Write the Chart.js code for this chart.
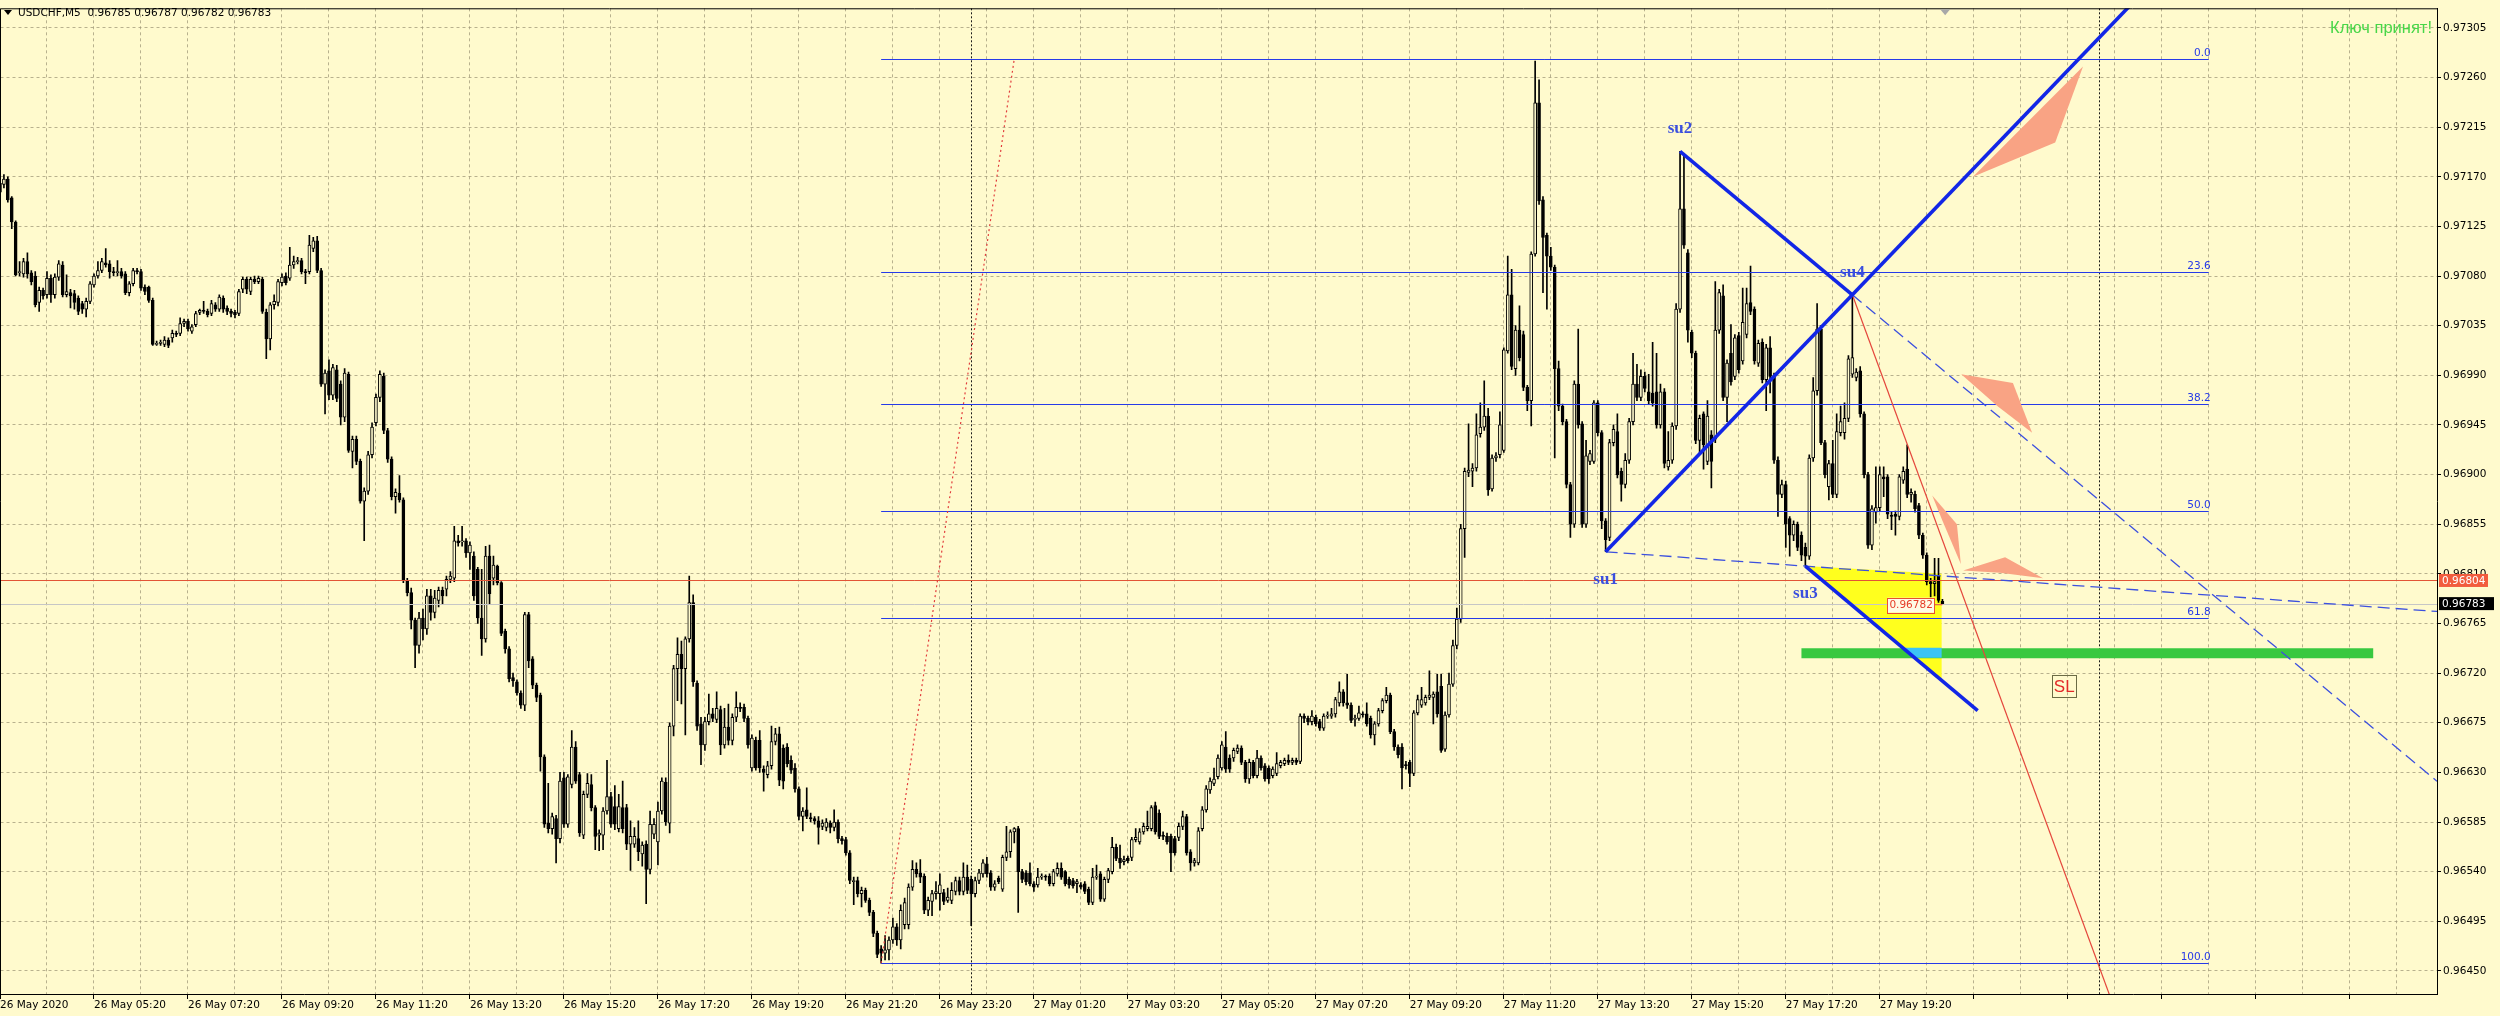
<!DOCTYPE html>
<html><head><meta charset="utf-8">
<script src="https://cdn.jsdelivr.net/npm/chart.js@4.4.1/dist/chart.umd.min.js"></script>
<style>html,body{margin:0;padding:0;background:#FFFACD;overflow:hidden}</style>
</head><body>
<canvas id="c" width="2500" height="1016"></canvas>
<script>
// ---------------- DATA (USDCHF M5) ----------------
const symbolTitle = 'USDCHF,M5';
const xLabels = ['26 May 2020','26 May 05:20','26 May 07:20','26 May 09:20','26 May 11:20','26 May 13:20','26 May 15:20','26 May 17:20','26 May 19:20','26 May 21:20','26 May 23:20','27 May 01:20','27 May 03:20','27 May 05:20','27 May 07:20','27 May 09:20','27 May 11:20','27 May 13:20','27 May 15:20','27 May 17:20','27 May 19:20'];
const yTicks = [0.97305,0.97260,0.97215,0.97170,0.97125,0.97080,0.97035,0.96990,0.96945,0.96900,0.96855,0.96810,0.96765,0.96720,0.96675,0.96630,0.96585,0.96540,0.96495,0.96450];

const opens = [
0.97156,0.97163,0.97168,0.97151,0.97129,0.97083,0.97082,0.97093,0.97083,0.97080,
0.97056,0.97067,0.97063,0.97078,0.97063,0.97079,0.97090,0.97063,0.97065,0.97064,
0.97060,0.97055,0.97050,0.97057,0.97072,0.97080,0.97085,0.97092,0.97091,0.97084,
0.97083,0.97084,0.97082,0.97065,0.97073,0.97085,0.97084,0.97070,0.97070,0.97058,
0.97018,0.97019,0.97018,0.97022,0.97024,0.97028,0.97028,0.97037,0.97039,0.97030,
0.97036,0.97047,0.97049,0.97048,0.97046,0.97054,0.97050,0.97060,0.97051,0.97048,
0.97047,0.97046,0.97068,0.97077,0.97066,0.97077,0.97075,0.97077,0.97047,0.97023,
0.97054,0.97056,0.97074,0.97080,0.97078,0.97090,0.97093,0.97094,0.97084,0.97084,
0.97105,0.97112,0.97085,0.96982,0.96994,0.96972,0.96995,0.96982,0.96952,0.96991,
0.96921,0.96932,0.96912,0.96876,0.96885,0.96918,0.96947,0.96970,0.96989,0.96940,
0.96914,0.96880,0.96883,0.96877,0.96804,0.96793,0.96768,0.96745,0.96770,0.96760,
0.96790,0.96775,0.96786,0.96795,0.96796,0.96805,0.96806,0.96840,0.96839,0.96840,
0.96829,0.96826,0.96814,0.96770,0.96751,0.96826,0.96806,0.96817,0.96802,0.96758,
0.96742,0.96716,0.96712,0.96702,0.96691,0.96773,0.96733,0.96709,0.96700,0.96644,
0.96584,0.96579,0.96588,0.96570,0.96625,0.96583,0.96619,0.96653,0.96628,0.96573,
0.96610,0.96619,0.96598,0.96573,0.96573,0.96595,0.96608,0.96599,0.96579,0.96598,
0.96598,0.96565,0.96565,0.96570,0.96556,0.96565,0.96542,0.96574,0.96567,0.96595,
0.96621,0.96584,0.96672,0.96724,0.96737,0.96724,0.96751,0.96784,0.96711,0.96674,
0.96655,0.96676,0.96683,0.96678,0.96687,0.96655,0.96671,0.96659,0.96680,0.96689,
0.96689,0.96679,0.96634,0.96659,0.96659,0.96633,0.96628,0.96636,0.96658,0.96665,
0.96652,0.96653,0.96641,0.96634,0.96615,0.96590,0.96596,0.96589,0.96588,0.96586,
0.96581,0.96580,0.96584,0.96580,0.96585,0.96570,0.96569,0.96557,0.96531,0.96532,
0.96520,0.96523,0.96514,0.96503,0.96484,0.96470,0.96466,0.96469,0.96478,0.96490,
0.96478,0.96492,0.96492,0.96526,0.96542,0.96539,0.96536,0.96505,0.96513,0.96520,
0.96520,0.96521,0.96514,0.96514,0.96522,0.96532,0.96522,0.96535,0.96533,0.96520,
0.96532,0.96538,0.96547,0.96539,0.96526,0.96534,0.96524,0.96553,0.96558,0.96576,
0.96579,0.96540,0.96539,0.96539,0.96529,0.96528,0.96535,0.96536,0.96536,0.96529,
0.96538,0.96543,0.96540,0.96533,0.96532,0.96529,0.96528,0.96529,0.96524,0.96512,
0.96535,0.96538,0.96515,0.96533,0.96540,0.96562,0.96552,0.96549,0.96552,0.96553,
0.96569,0.96567,0.96576,0.96579,0.96579,0.96600,0.96593,0.96573,0.96572,0.96572,
0.96570,0.96571,0.96581,0.96590,0.96558,0.96548,0.96548,0.96579,0.96596,0.96614,
0.96620,0.96626,0.96634,0.96653,0.96643,0.96643,0.96649,0.96652,0.96639,0.96624,
0.96639,0.96627,0.96643,0.96636,0.96634,0.96627,0.96629,0.96636,0.96638,0.96641,
0.96639,0.96641,0.96640,0.96681,0.96679,0.96676,0.96680,0.96676,0.96670,0.96681,
0.96681,0.96683,0.96693,0.96703,0.96693,0.96691,0.96678,0.96679,0.96683,0.96683,
0.96679,0.96664,0.96674,0.96686,0.96695,0.96700,0.96667,0.96653,0.96653,0.96637,
0.96639,0.96629,0.96684,0.96691,0.96693,0.96698,0.96698,0.96703,0.96708,0.96651,
0.96682,0.96710,0.96745,0.96769,0.96851,0.96902,0.96903,0.96906,0.96937,0.96943,
0.96953,0.96887,0.96915,0.96918,0.96922,0.97012,0.97063,0.96996,0.97031,0.97027,
0.96979,0.96967,0.97100,0.97237,0.97149,0.97117,0.97098,0.97088,0.96996,0.96962,
0.96948,0.96891,0.96855,0.96982,0.96946,0.96855,0.96912,0.96912,0.96965,0.96938,
0.96858,0.96843,0.96929,0.96939,0.96903,0.96891,0.96913,0.96948,0.96982,0.96970,
0.96989,0.96975,0.96974,0.96975,0.96945,0.96975,0.96907,0.96913,0.96944,0.97050,
0.97141,0.97101,0.97029,0.97010,0.96931,0.96955,0.96912,0.96936,0.96932,0.97031,
0.97062,0.96970,0.97010,0.96989,0.97026,0.97003,0.97027,0.97056,0.97050,0.97001,
0.97020,0.96986,0.97015,0.96989,0.96913,0.96882,0.96891,0.96860,0.96845,0.96855,
0.96845,0.96834,0.96826,0.96915,0.96976,0.97032,0.96929,0.96889,0.96910,0.96882,
0.96938,0.96938,0.96951,0.96991,0.96988,0.96994,0.96955,0.96900,0.96836,0.96866,
0.96870,0.96898,0.96898,0.96863,0.96864,0.96862,0.96895,0.96905,0.96882,0.96882,
0.96872,0.96845,0.96827,0.96803,0.96801,0.96808,0.96785];

const highs = [
0.97172,0.97172,0.97170,0.97152,0.97130,0.97093,0.97096,0.97101,0.97085,0.97084,
0.97070,0.97069,0.97084,0.97081,0.97082,0.97094,0.97093,0.97081,0.97068,0.97067,
0.97062,0.97057,0.97060,0.97075,0.97082,0.97093,0.97096,0.97105,0.97094,0.97088,
0.97094,0.97087,0.97084,0.97075,0.97087,0.97087,0.97086,0.97072,0.97071,0.97060,
0.97021,0.97022,0.97025,0.97024,0.97031,0.97030,0.97042,0.97041,0.97041,0.97036,
0.97048,0.97050,0.97057,0.97050,0.97058,0.97056,0.97063,0.97062,0.97053,0.97050,
0.97049,0.97068,0.97079,0.97079,0.97079,0.97080,0.97080,0.97079,0.97050,0.97056,
0.97063,0.97077,0.97082,0.97083,0.97106,0.97098,0.97097,0.97096,0.97086,0.97117,
0.97115,0.97116,0.97087,0.96995,0.97004,0.97000,0.96999,0.96985,0.96996,0.96993,
0.96935,0.96935,0.96914,0.96888,0.96921,0.96947,0.96973,0.96994,0.96992,0.96942,
0.96916,0.96887,0.96899,0.96879,0.96806,0.96797,0.96770,0.96775,0.96778,0.96796,
0.96796,0.96795,0.96798,0.96798,0.96808,0.96812,0.96853,0.96845,0.96853,0.96842,
0.96839,0.96830,0.96816,0.96814,0.96835,0.96836,0.96826,0.96818,0.96803,0.96760,
0.96744,0.96720,0.96714,0.96704,0.96775,0.96775,0.96735,0.96711,0.96702,0.96646,
0.96620,0.96593,0.96591,0.96630,0.96630,0.96628,0.96668,0.96658,0.96630,0.96613,
0.96629,0.96628,0.96600,0.96578,0.96598,0.96641,0.96612,0.96618,0.96610,0.96622,
0.96601,0.96586,0.96580,0.96586,0.96567,0.96568,0.96595,0.96588,0.96603,0.96625,
0.96625,0.96675,0.96727,0.96752,0.96749,0.96753,0.96808,0.96791,0.96713,0.96680,
0.96680,0.96701,0.96688,0.96703,0.96690,0.96688,0.96692,0.96683,0.96703,0.96693,
0.96692,0.96681,0.96664,0.96662,0.96668,0.96636,0.96640,0.96672,0.96670,0.96671,
0.96655,0.96656,0.96645,0.96638,0.96617,0.96598,0.96616,0.96593,0.96590,0.96590,
0.96587,0.96588,0.96586,0.96596,0.96587,0.96572,0.96571,0.96559,0.96535,0.96535,
0.96526,0.96525,0.96516,0.96505,0.96486,0.96473,0.96482,0.96481,0.96498,0.96493,
0.96510,0.96516,0.96529,0.96550,0.96548,0.96551,0.96538,0.96517,0.96523,0.96531,
0.96538,0.96524,0.96525,0.96530,0.96535,0.96535,0.96548,0.96546,0.96536,0.96535,
0.96542,0.96551,0.96553,0.96541,0.96532,0.96536,0.96555,0.96581,0.96578,0.96580,
0.96581,0.96542,0.96541,0.96548,0.96531,0.96543,0.96538,0.96537,0.96538,0.96542,
0.96548,0.96548,0.96541,0.96535,0.96534,0.96533,0.96530,0.96531,0.96526,0.96543,
0.96546,0.96540,0.96535,0.96543,0.96571,0.96565,0.96564,0.96554,0.96554,0.96571,
0.96579,0.96579,0.96584,0.96595,0.96600,0.96603,0.96596,0.96576,0.96575,0.96574,
0.96572,0.96584,0.96595,0.96592,0.96560,0.96552,0.96580,0.96599,0.96618,0.96625,
0.96634,0.96646,0.96658,0.96667,0.96646,0.96652,0.96655,0.96654,0.96641,0.96642,
0.96641,0.96650,0.96645,0.96638,0.96636,0.96635,0.96648,0.96641,0.96643,0.96646,
0.96643,0.96643,0.96683,0.96683,0.96681,0.96686,0.96682,0.96678,0.96683,0.96685,
0.96688,0.96698,0.96712,0.96705,0.96719,0.96693,0.96682,0.96690,0.96685,0.96693,
0.96681,0.96676,0.96688,0.96697,0.96707,0.96702,0.96669,0.96655,0.96656,0.96640,
0.96641,0.96686,0.96700,0.96707,0.96700,0.96722,0.96703,0.96719,0.96719,0.96685,
0.96720,0.96750,0.96779,0.96855,0.96906,0.96946,0.96910,0.96955,0.96965,0.96985,
0.96960,0.96918,0.96920,0.96957,0.97015,0.97098,0.97086,0.97035,0.97053,0.97030,
0.96981,0.97102,0.97275,0.97258,0.97152,0.97119,0.97106,0.97090,0.97003,0.96964,
0.96950,0.96893,0.96985,0.97032,0.96948,0.96931,0.96922,0.96967,0.96967,0.96940,
0.96860,0.96932,0.96945,0.96955,0.96906,0.96919,0.96951,0.97010,0.97000,0.96995,
0.96993,0.96991,0.97020,0.97010,0.96982,0.96978,0.96939,0.96947,0.97055,0.97193,
0.97189,0.97104,0.97031,0.97012,0.96954,0.96957,0.96967,0.96940,0.97075,0.97068,
0.97072,0.97004,0.97036,0.97027,0.97029,0.97069,0.97069,0.97089,0.97052,0.97022,
0.97023,0.97018,0.97025,0.96992,0.96916,0.96895,0.96894,0.96862,0.96858,0.96857,
0.96848,0.96838,0.96918,0.96988,0.97055,0.97035,0.96931,0.96913,0.96931,0.96955,
0.96962,0.96965,0.97008,0.97063,0.96996,0.96998,0.96957,0.96902,0.96872,0.96907,
0.96907,0.96907,0.96900,0.96866,0.96867,0.96900,0.96907,0.96927,0.96887,0.96885,
0.96874,0.96847,0.96829,0.96806,0.96824,0.96824,0.96787];

const lows = [
0.97150,0.97160,0.97147,0.97123,0.97080,0.97080,0.97079,0.97078,0.97072,0.97052,
0.97048,0.97059,0.97060,0.97056,0.97060,0.97076,0.97061,0.97061,0.97051,0.97050,
0.97045,0.97046,0.97043,0.97055,0.97070,0.97078,0.97083,0.97088,0.97078,0.97080,
0.97080,0.97078,0.97063,0.97062,0.97071,0.97082,0.97067,0.97063,0.97056,0.97017,
0.97017,0.97017,0.97016,0.97015,0.97020,0.97025,0.97026,0.97034,0.97030,0.97028,
0.97034,0.97045,0.97046,0.97043,0.97044,0.97048,0.97048,0.97047,0.97045,0.97043,
0.97042,0.97044,0.97065,0.97064,0.97063,0.97073,0.97073,0.97046,0.97005,0.97013,
0.97050,0.97053,0.97071,0.97072,0.97076,0.97087,0.97091,0.97082,0.97073,0.97082,
0.97102,0.97083,0.96980,0.96955,0.96968,0.96968,0.96966,0.96945,0.96948,0.96920,
0.96906,0.96909,0.96874,0.96840,0.96882,0.96915,0.96944,0.96966,0.96937,0.96911,
0.96877,0.96865,0.96875,0.96802,0.96790,0.96760,0.96725,0.96738,0.96750,0.96755,
0.96768,0.96770,0.96780,0.96782,0.96790,0.96802,0.96803,0.96835,0.96835,0.96825,
0.96814,0.96786,0.96765,0.96736,0.96748,0.96782,0.96800,0.96800,0.96754,0.96738,
0.96712,0.96708,0.96700,0.96688,0.96686,0.96725,0.96706,0.96694,0.96631,0.96580,
0.96575,0.96574,0.96548,0.96566,0.96580,0.96580,0.96616,0.96620,0.96572,0.96570,
0.96607,0.96595,0.96560,0.96559,0.96560,0.96592,0.96580,0.96578,0.96576,0.96575,
0.96560,0.96541,0.96562,0.96550,0.96545,0.96511,0.96538,0.96570,0.96546,0.96592,
0.96582,0.96575,0.96663,0.96695,0.96692,0.96664,0.96748,0.96708,0.96668,0.96637,
0.96650,0.96673,0.96676,0.96675,0.96646,0.96652,0.96655,0.96655,0.96676,0.96685,
0.96676,0.96652,0.96631,0.96632,0.96630,0.96613,0.96625,0.96633,0.96655,0.96618,
0.96615,0.96635,0.96629,0.96612,0.96587,0.96577,0.96588,0.96585,0.96583,0.96565,
0.96578,0.96577,0.96575,0.96577,0.96566,0.96565,0.96555,0.96529,0.96510,0.96517,
0.96508,0.96512,0.96500,0.96481,0.96462,0.96457,0.96460,0.96460,0.96475,0.96473,
0.96470,0.96488,0.96488,0.96523,0.96535,0.96530,0.96502,0.96500,0.96500,0.96515,
0.96505,0.96510,0.96512,0.96511,0.96519,0.96519,0.96519,0.96520,0.96491,0.96517,
0.96529,0.96535,0.96535,0.96523,0.96523,0.96529,0.96522,0.96550,0.96553,0.96566,
0.96503,0.96530,0.96528,0.96527,0.96522,0.96526,0.96533,0.96532,0.96527,0.96527,
0.96536,0.96533,0.96527,0.96525,0.96525,0.96521,0.96524,0.96520,0.96510,0.96510,
0.96533,0.96513,0.96513,0.96530,0.96538,0.96550,0.96543,0.96546,0.96548,0.96550,
0.96567,0.96565,0.96574,0.96577,0.96577,0.96574,0.96570,0.96569,0.96565,0.96540,
0.96555,0.96568,0.96578,0.96555,0.96541,0.96545,0.96546,0.96577,0.96594,0.96611,
0.96618,0.96624,0.96632,0.96630,0.96630,0.96640,0.96647,0.96637,0.96621,0.96620,
0.96625,0.96625,0.96632,0.96622,0.96620,0.96625,0.96627,0.96634,0.96636,0.96637,
0.96637,0.96637,0.96638,0.96675,0.96673,0.96673,0.96672,0.96668,0.96668,0.96679,
0.96679,0.96680,0.96690,0.96690,0.96688,0.96675,0.96672,0.96677,0.96680,0.96672,
0.96661,0.96655,0.96672,0.96684,0.96693,0.96665,0.96650,0.96643,0.96615,0.96633,
0.96617,0.96627,0.96682,0.96689,0.96691,0.96696,0.96674,0.96680,0.96648,0.96649,
0.96680,0.96708,0.96742,0.96766,0.96825,0.96898,0.96889,0.96903,0.96934,0.96940,
0.96881,0.96885,0.96912,0.96915,0.96920,0.97010,0.96995,0.96990,0.97003,0.96976,
0.96958,0.96944,0.97098,0.97145,0.97065,0.97050,0.97085,0.96915,0.96958,0.96945,
0.96888,0.96843,0.96852,0.96942,0.96852,0.96852,0.96909,0.96910,0.96935,0.96851,
0.96830,0.96840,0.96926,0.96897,0.96876,0.96888,0.96910,0.96945,0.96967,0.96967,
0.96975,0.96964,0.96962,0.96942,0.96942,0.96906,0.96904,0.96910,0.96941,0.97047,
0.97105,0.97020,0.97006,0.96928,0.96920,0.96905,0.96909,0.96888,0.96929,0.97028,
0.96967,0.96948,0.96981,0.96986,0.96992,0.97000,0.97024,0.97045,0.97000,0.96998,
0.96983,0.96958,0.96974,0.96910,0.96862,0.96879,0.96834,0.96826,0.96840,0.96831,
0.96822,0.96817,0.96823,0.96912,0.96972,0.96927,0.96897,0.96877,0.96879,0.96879,
0.96935,0.96932,0.96948,0.96988,0.96985,0.96952,0.96897,0.96833,0.96832,0.96856,
0.96867,0.96880,0.96860,0.96850,0.96845,0.96859,0.96892,0.96879,0.96875,0.96866,
0.96842,0.96824,0.96800,0.96789,0.96790,0.96784,0.96782];

const closes = [
0.97164,0.97168,0.97149,0.97129,0.97081,0.97084,0.97093,0.97082,0.97075,0.97054,
0.97067,0.97062,0.97078,0.97063,0.97079,0.97091,0.97063,0.97066,0.97062,0.97056,
0.97048,0.97050,0.97057,0.97073,0.97080,0.97085,0.97093,0.97090,0.97084,0.97083,
0.97084,0.97080,0.97065,0.97073,0.97085,0.97084,0.97069,0.97066,0.97058,0.97018,
0.97019,0.97020,0.97022,0.97017,0.97028,0.97027,0.97037,0.97039,0.97032,0.97034,
0.97046,0.97049,0.97048,0.97045,0.97055,0.97050,0.97061,0.97050,0.97048,0.97046,
0.97045,0.97066,0.97077,0.97068,0.97077,0.97075,0.97078,0.97048,0.97023,0.97054,
0.97057,0.97075,0.97079,0.97074,0.97090,0.97093,0.97094,0.97084,0.97083,0.97108,
0.97112,0.97085,0.96982,0.96992,0.96972,0.96997,0.96969,0.96952,0.96992,0.96922,
0.96932,0.96912,0.96876,0.96885,0.96918,0.96943,0.96970,0.96991,0.96940,0.96914,
0.96880,0.96884,0.96877,0.96804,0.96793,0.96768,0.96745,0.96770,0.96760,0.96790,
0.96775,0.96788,0.96795,0.96790,0.96805,0.96808,0.96840,0.96838,0.96840,0.96829,
0.96836,0.96790,0.96770,0.96751,0.96826,0.96792,0.96818,0.96802,0.96756,0.96742,
0.96715,0.96713,0.96702,0.96691,0.96773,0.96731,0.96709,0.96698,0.96644,0.96583,
0.96579,0.96590,0.96570,0.96622,0.96583,0.96626,0.96653,0.96622,0.96575,0.96610,
0.96620,0.96598,0.96572,0.96575,0.96595,0.96608,0.96583,0.96583,0.96599,0.96579,
0.96565,0.96572,0.96572,0.96558,0.96564,0.96542,0.96583,0.96583,0.96595,0.96622,
0.96585,0.96672,0.96724,0.96737,0.96724,0.96751,0.96784,0.96712,0.96672,0.96655,
0.96676,0.96683,0.96679,0.96688,0.96655,0.96671,0.96659,0.96680,0.96689,0.96688,
0.96679,0.96655,0.96661,0.96634,0.96634,0.96630,0.96636,0.96658,0.96665,0.96623,
0.96622,0.96638,0.96632,0.96615,0.96590,0.96595,0.96590,0.96588,0.96586,0.96580,
0.96584,0.96585,0.96580,0.96585,0.96570,0.96568,0.96557,0.96532,0.96532,0.96520,
0.96523,0.96514,0.96503,0.96484,0.96465,0.96466,0.96469,0.96478,0.96490,0.96478,
0.96505,0.96512,0.96526,0.96542,0.96538,0.96535,0.96505,0.96514,0.96520,0.96522,
0.96528,0.96513,0.96517,0.96523,0.96532,0.96522,0.96535,0.96523,0.96520,0.96532,
0.96539,0.96548,0.96538,0.96526,0.96529,0.96531,0.96553,0.96558,0.96576,0.96579,
0.96540,0.96533,0.96531,0.96529,0.96526,0.96535,0.96536,0.96535,0.96529,0.96540,
0.96543,0.96535,0.96529,0.96528,0.96527,0.96531,0.96526,0.96522,0.96512,0.96535,
0.96536,0.96515,0.96533,0.96541,0.96562,0.96552,0.96548,0.96551,0.96550,0.96569,
0.96571,0.96576,0.96581,0.96581,0.96598,0.96576,0.96572,0.96572,0.96567,0.96557,
0.96557,0.96581,0.96590,0.96557,0.96548,0.96550,0.96577,0.96596,0.96615,0.96622,
0.96624,0.96643,0.96655,0.96633,0.96633,0.96650,0.96652,0.96639,0.96624,0.96639,
0.96627,0.96643,0.96634,0.96624,0.96624,0.96633,0.96638,0.96639,0.96641,0.96639,
0.96641,0.96639,0.96681,0.96679,0.96676,0.96681,0.96674,0.96670,0.96681,0.96682,
0.96683,0.96696,0.96703,0.96693,0.96691,0.96677,0.96679,0.96684,0.96682,0.96674,
0.96664,0.96674,0.96686,0.96695,0.96700,0.96667,0.96653,0.96646,0.96634,0.96636,
0.96629,0.96684,0.96696,0.96696,0.96698,0.96700,0.96701,0.96683,0.96650,0.96682,
0.96710,0.96745,0.96769,0.96851,0.96903,0.96904,0.96906,0.96936,0.96943,0.96953,
0.96886,0.96915,0.96917,0.96945,0.97013,0.97063,0.96998,0.97031,0.97006,0.96979,
0.96967,0.97100,0.97237,0.97148,0.97115,0.97098,0.97088,0.96996,0.96962,0.96948,
0.96891,0.96855,0.96982,0.96945,0.96855,0.96917,0.96919,0.96965,0.96938,0.96858,
0.96841,0.96929,0.96941,0.96900,0.96891,0.96913,0.96948,0.96982,0.96970,0.96989,
0.96978,0.96967,0.96965,0.96945,0.96975,0.96910,0.96913,0.96944,0.97050,0.97141,
0.97108,0.97031,0.97010,0.96931,0.96951,0.96927,0.96953,0.96912,0.97031,0.97065,
0.96970,0.97001,0.96984,0.97024,0.96995,0.97038,0.97055,0.97048,0.97003,0.97019,
0.96986,0.97015,0.96989,0.96913,0.96882,0.96891,0.96855,0.96845,0.96855,0.96834,
0.96827,0.96826,0.96915,0.96976,0.97032,0.96929,0.96900,0.96910,0.96882,0.96939,
0.96948,0.96951,0.97005,0.97006,0.96993,0.96955,0.96900,0.96836,0.96869,0.96870,
0.96900,0.96896,0.96864,0.96862,0.96862,0.96898,0.96903,0.96882,0.96884,0.96869,
0.96845,0.96827,0.96803,0.96801,0.96803,0.96786,0.96783];

// Horizontal price lines
const askPrice = 0.96804;
const priceTag = 0.96782;
// Fibonacci retracement (bar index, price)
const fibLevels = [0, 23.6, 38.2, 50.0, 61.8, 100.0];
const fibLowPt = [225, 0.96457];
const fibHighPt = [259, 0.97277];
const fibEndIdx = 564;
// Pattern points su1..su4 (bar index, price) and their text positions
const suNames = ['su1','su2','su3','su4'];
const suIdx = [410, 429, 461, 473];
const suPrice = [0.96830, 0.97193, 0.96817, 0.97063];
const suLabelIdx = [410, 429, 461, 473];
const suLabelPrice = [0.96805, 0.97214, 0.96792, 0.97083];
const su3LineEnd = [505, 0.96686];
const redLineEnd = [545, 0.96367];
const greenLine = [460, 606, 0.96738];
const yellowTri = [[461, 0.96817], [495.8, 0.96810], [495.8, 0.96713]];
const cyanPoly = [[485.9, 0.96743], [495.8, 0.96743], [495.8, 0.96734], [488.9, 0.96734]];
const salmonPolys = [
  [[503.8, 0.97170], [531.9, 0.97270], [524.8, 0.97201]],
  [[500.8, 0.96991], [514.0, 0.96983], [518.9, 0.96938], [510.1, 0.96962]],
  [[493.4, 0.96881], [499.7, 0.96855], [500.7, 0.96819], [495.9, 0.96859]],
  [[501.3, 0.96813], [512.0, 0.96825], [521.7, 0.96806], [510.7, 0.96811]]
];
const slLabel = [527.1, 0.96708];
const dayLines = [248, 536];
const keyText = 'Ключ принят!';

// ---------------- CHART ----------------
const BG = '#FFFACD';
const X_MIN = 0.128, X_MAX = 622.29;
const Y_MIN = 0.9642906, Y_MAX = 0.9732275;
const FIB = 'rgb(38,58,232)';
const BLUE = 'rgb(18,38,230)';
const DASHBLUE = 'rgb(60,80,222)';
const last = closes.length - 1;

Chart.defaults.font.family = '"DejaVu Sans", sans-serif';
Chart.defaults.font.size = 10.5;
Chart.defaults.color = '#000';

const bodyData = closes.map((c, i) => ({x: i, y: [opens[i], c]}));
const wickData = highs.map((h, i) => ({x: i, y: [lows[i], h]}));
const pt = a => ({x: a[0], y: a[1]});
const su = k => ({x: suIdx[k], y: suPrice[k]});
function extendTo(a, b, xEnd) { const s = (b.y - a.y) / (b.x - a.x); return {x: xEnd, y: a.y + s * (xEnd - a.x)}; }
const fibPrice = lv => fibHighPt[1] - lv / 100 * (fibHighPt[1] - fibLowPt[1]);
function lineDS(data, color, width, dash, order, label) {
  return {type: 'line', label: label || '', data, borderColor: color, borderWidth: width, borderDash: dash || [],
          pointRadius: 0, pointHoverRadius: 0, fill: false, tension: 0, order, clip: 0, borderCapStyle: 'butt'};
}

const datasets = [
  {type: 'bar', label: 'wicks', data: wickData, backgroundColor: '#000', borderWidth: 0, barThickness: 1,
   grouped: false, order: 21, minBarLength: 1},
  {type: 'bar', label: 'bodies', data: bodyData,
   backgroundColor: ctx => (closes[ctx.dataIndex] >= opens[ctx.dataIndex] ? BG : '#000'),
   borderColor: '#000', borderWidth: 1, borderSkipped: false, barThickness: 3, grouped: false, order: 20, minBarLength: 1},
  lineDS([pt(fibLowPt), pt(fibHighPt)], 'rgb(225,60,60)', 1.2, [2, 3], 11),
  lineDS([{x: greenLine[0], y: greenLine[2]}, {x: greenLine[1], y: greenLine[2]}], 'rgb(56,200,64)', 10, [], 9, 'green'),
  lineDS([su(3), pt(redLineEnd)], 'rgb(228,70,60)', 1.2, [], 8),
  lineDS([su(3), extendTo(su(1), su(3), X_MAX)], DASHBLUE, 1.3, [12, 6], 7),
  lineDS([su(0), extendTo(su(0), su(2), X_MAX)], DASHBLUE, 1.3, [12, 6], 7),
  lineDS([su(0), extendTo(su(0), su(3), 560)], BLUE, 3.6, [], 5),
  lineDS([su(1), su(3)], BLUE, 3.6, [], 5),
  lineDS([su(2), pt(su3LineEnd)], BLUE, 3.6, [], 5)
];

function P(chart, a) { return [chart.scales.x.getPixelForValue(a[0]), chart.scales.y.getPixelForValue(a[1])]; }
function poly(chart, pts, fill) {
  const c = chart.ctx; c.beginPath();
  pts.forEach((p, k) => { const [X, Y] = P(chart, p); k ? c.lineTo(X, Y) : c.moveTo(X, Y); });
  c.closePath(); c.fillStyle = fill; c.fill();
}
function clipArea(chart, fn) {
  const c = chart.ctx, a = chart.chartArea; c.save(); c.beginPath(); c.rect(a.left, a.top, a.right - a.left, a.bottom - a.top); c.clip(); fn(); c.restore();
}
// crisp 1px horizontal / vertical lines positioned through the chart's scales
function hLine(chart, i0, i1, price, color, dash) {
  const c = chart.ctx, y = Math.round(chart.scales.y.getPixelForValue(price)) + 0.5;
  c.beginPath(); c.setLineDash(dash || []); c.strokeStyle = color; c.lineWidth = 1;
  c.moveTo(chart.scales.x.getPixelForValue(i0), y); c.lineTo(chart.scales.x.getPixelForValue(i1), y); c.stroke(); c.setLineDash([]);
}
function vLine(chart, i, color, dash) {
  const c = chart.ctx, a = chart.chartArea, x = Math.round(chart.scales.x.getPixelForValue(i)) + 0.5;
  c.beginPath(); c.setLineDash(dash || []); c.strokeStyle = color; c.lineWidth = 1;
  c.moveTo(x, a.top); c.lineTo(x, a.bottom); c.stroke(); c.setLineDash([]);
}

const overlay = {
  id: 'overlay',
  beforeDraw(chart) { const c = chart.ctx; c.save(); c.fillStyle = BG; c.fillRect(0, 0, chart.width, chart.height); c.restore(); },
  beforeDatasetsDraw(chart) {
    clipArea(chart, () => {
      poly(chart, yellowTri, '#ffff1e');
      dayLines.forEach(d => vLine(chart, d, '#1a1a1a', [2, 2]));
    });
  },
  afterDatasetDraw(chart, args) {
    const lbl = chart.data.datasets[args.index].label;
    if (lbl === 'bodies') clipArea(chart, () => {
      hLine(chart, X_MIN, X_MAX, closes[last], '#c6c6c6');
      hLine(chart, X_MIN, X_MAX, askPrice, 'rgb(226,84,54)');
      fibLevels.forEach(lv => hLine(chart, fibLowPt[0], fibEndIdx, fibPrice(lv), FIB));
    });
    if (lbl === 'green') clipArea(chart, () => poly(chart, cyanPoly, 'rgb(60,196,245)'));
  },
  afterDatasetsDraw(chart) {
    const c = chart.ctx;
    clipArea(chart, () => {
      salmonPolys.forEach(p => poly(chart, p, 'rgb(249,163,132)'));
      // su labels
      c.font = 'bold 17px "Liberation Serif", serif'; c.fillStyle = 'rgb(58,78,222)'; c.textAlign = 'center'; c.textBaseline = 'middle';
      suNames.forEach((n, k) => { const [X, Y] = P(chart, [suLabelIdx[k], suLabelPrice[k]]); c.fillText(n, X, Y); });
      // fib labels
      c.font = '10.5px "DejaVu Sans", sans-serif'; c.fillStyle = FIB; c.textAlign = 'right'; c.textBaseline = 'alphabetic';
      fibLevels.forEach(lv => { const [X, Y] = P(chart, [fibEndIdx, fibPrice(lv)]); c.fillText(lv.toFixed(1), X + 2, Y - 3); });
      // SL label
      const [sx, sy] = P(chart, slLabel);
      c.strokeStyle = '#6b6b45'; c.lineWidth = 1; c.strokeRect(Math.round(sx - 12) + 0.5, Math.round(sy - 11) + 0.5, 24, 22);
      c.font = '17px "Liberation Sans", sans-serif'; c.fillStyle = 'rgb(226,40,40)'; c.textAlign = 'center'; c.textBaseline = 'middle';
      c.fillText('SL', sx, sy + 1);
      // price tag near the last bar
      const [lx, ly] = P(chart, [last, priceTag]);
      const bx = lx - 55, by = ly - 7;
      c.fillStyle = '#fffbe6'; c.fillRect(bx, by, 47, 15);
      c.strokeStyle = 'rgb(232,80,50)'; c.strokeRect(Math.round(bx) + 0.5, Math.round(by) + 0.5, 47, 15);
      c.beginPath(); c.moveTo(bx + 47, ly); c.lineTo(lx, ly); c.stroke();
      c.font = '10.5px "DejaVu Sans", sans-serif'; c.fillStyle = 'rgb(230,60,40)'; c.textAlign = 'left'; c.textBaseline = 'middle';
      c.fillText(priceTag.toFixed(5), bx + 2, ly + 1);
    });
  },
  afterDraw(chart) {
    const c = chart.ctx, a = chart.chartArea;
    c.save();
    c.strokeStyle = '#000'; c.lineWidth = 1;
    c.beginPath(); c.moveTo(0.5, a.bottom); c.lineTo(0.5, a.top + 0.5); c.lineTo(a.right, a.top + 0.5); c.stroke();
    // header
    c.fillStyle = '#000';
    c.beginPath(); c.moveTo(4, 10); c.lineTo(12, 10); c.lineTo(8, 15); c.closePath(); c.fill();
    c.font = '10.5px "DejaVu Sans", sans-serif'; c.textAlign = 'left'; c.textBaseline = 'middle';
    c.fillText(symbolTitle + '  ' + [opens[last], highs[last], lows[last], closes[last]].map(v => v.toFixed(5)).join(' '), 18, 13);
    // key text
    c.font = '16.5px "Liberation Sans", sans-serif'; c.fillStyle = 'rgb(72,214,72)'; c.textAlign = 'right'; c.textBaseline = 'alphabetic';
    c.fillText(keyText, a.right - 5, 33);
    // top marker
    const mx = chart.scales.x.getPixelForValue(last + 0.7);
    c.fillStyle = '#a8a8a8'; c.beginPath(); c.moveTo(mx - 5, a.top + 1); c.lineTo(mx + 5, a.top + 1); c.lineTo(mx, a.top + 7); c.closePath(); c.fill();
    // axis price boxes
    const ys = chart.scales.y;
    const ay = ys.getPixelForValue(askPrice), by2 = ys.getPixelForValue(closes[last]);
    c.font = '10.5px "DejaVu Sans", sans-serif'; c.textAlign = 'left'; c.textBaseline = 'middle';
    c.fillStyle = 'rgb(242,92,62)'; c.fillRect(a.right + 2, ay - 6.5, 49, 13);
    c.fillStyle = '#fff'; c.fillText(askPrice.toFixed(5), a.right + 5, ay + 0.5);
    c.fillStyle = '#000'; c.fillRect(a.right + 2, by2 - 6.5, 55, 13);
    c.fillStyle = '#fff'; c.fillText(closes[last].toFixed(5), a.right + 5, by2 + 0.5);
    c.restore();
  }
};

new Chart(document.getElementById('c'), {
  type: 'bar',
  data: {datasets},
  options: {
    responsive: false, animation: false, devicePixelRatio: 1, events: [],
    layout: {autoPadding: false, padding: {top: 2, left: 0, right: 0, bottom: 0}},
    plugins: {legend: {display: false}, tooltip: {enabled: false}},
    scales: {
      x: {
        type: 'linear', position: 'bottom', min: X_MIN, max: X_MAX, offset: false,
        afterBuildTicks: s => { const t = []; for (let v = 0; v <= X_MAX; v += 12) t.push({value: v}); s.ticks = t; },
        afterFit: s => { s.height = 22; },
        grid: {offset: false, color: 'rgba(160,152,120,0.75)', lineWidth: 1, drawTicks: true, tickLength: 5,
               tickColor: ctx => (ctx.tick && ctx.tick.value % 24 === 0 ? '#000' : 'rgba(0,0,0,0)'), tickBorderDash: [], tickWidth: 1},
        border: {display: true, color: '#000', width: 1, dash: [3, 3]},
        ticks: {autoSkip: false, maxRotation: 0, minRotation: 0, align: 'start', padding: 0, color: '#000',
                font: {size: 10.5}, callback: v => (v % 24 === 0 ? (xLabels[v / 24] || '') : '')}
      },
      y: {
        type: 'linear', position: 'right', min: Y_MIN, max: Y_MAX,
        afterBuildTicks: s => { s.ticks = yTicks.map(v => ({value: v})); },
        afterFit: s => { s.width = 63; },
        grid: {color: 'rgba(160,152,120,0.75)', lineWidth: 1, drawTicks: true, tickLength: 4, tickColor: '#000', tickBorderDash: [], tickWidth: 1},
        border: {display: true, color: '#000', width: 1, dash: [3, 3]},
        ticks: {autoSkip: false, padding: 2, color: '#000', font: {size: 10.5}, callback: v => Number(v).toFixed(5)}
      }
    }
  },
  plugins: [overlay]
});
</script>
</body></html>
